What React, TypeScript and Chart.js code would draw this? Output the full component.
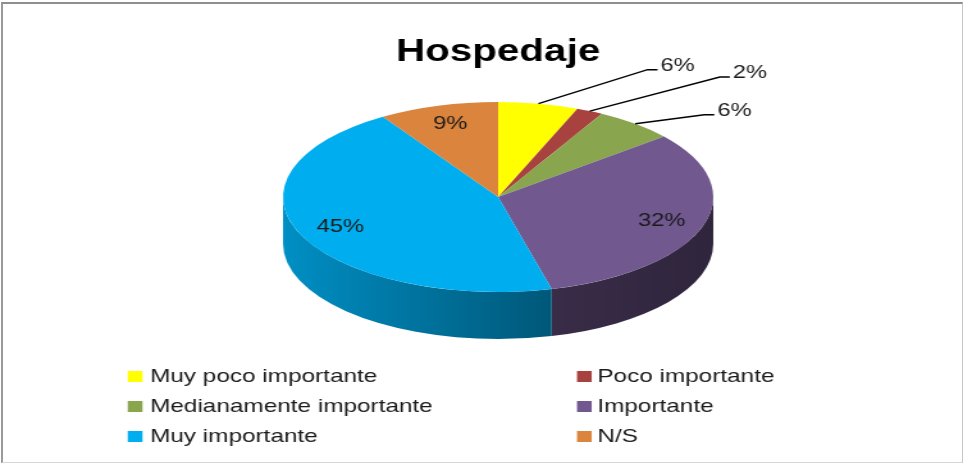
import React, { useEffect, useRef } from 'react';
import { Chart, registerables } from 'chart.js';

Chart.register(...registerables);

// ---------- data ----------
const TITLE = 'Hospedaje';
const categories = [
  'Muy poco importante',
  'Poco importante',
  'Medianamente importante',
  'Importante',
  'Muy importante',
  'N/S',
];
const values = [6, 2, 6, 32, 45, 9];
const colors = ['#FFFF00', '#A8423F', '#89A54E', '#71588F', '#00AEEF', '#DB843D'];

// ---------- layout / style ----------
const PAGE_W = 963;
const PAGE_H = 463;
const STRETCH = 1.28; // the reference image is stretched horizontally
const CANVAS_W = Math.round(PAGE_W / STRETCH);
const FONT = "'Liberation Sans', Arial, sans-serif";
const TEXT_COLOR = '#1a1a1a';

const PIE_RX = 215 / STRETCH; // outer radius in canvas units
const PIE_RY = 95; // vertical radius of the tilted pie
const TILT = PIE_RY / PIE_RX;
const DEPTH = 47;
const SIDE_SHADE: [number, number][] = [
  [0, 0.82],
  [0.633, 0.5],
  [1, 0.42],
];

// labels: outside labels get an offset (page px) from the rim anchor to the text start/baseline
const LABEL_OFFSET: ([number, number] | null)[] = [[122, -33], [143, -33], [82, -8], null, null, null];
const INSIDE_R = 0.8;
const LABEL_SIZE = 18.5;

// legend grid (page px)
const LEGEND_MARKER_X = [127.7, 576.7];
const LEGEND_TEXT_X = [150, 597];
const LEGEND_BASELINES = [382, 412, 442];
const LEGEND_SIZE = 19;

function shade(hex: string, f: number) {
  const n = parseInt(hex.slice(1), 16);
  const r = Math.round(((n >> 16) & 255) * f);
  const g = Math.round(((n >> 8) & 255) * f);
  const b = Math.round((n & 255) * f);
  return `rgb(${r},${g},${b})`;
}

const pie3d = {
  id: 'pie3d',
  beforeDatasetsDraw(chart: any) {
    const ctx = chart.ctx as CanvasRenderingContext2D;
    const arcs = chart.getDatasetMeta(0).data;
    if (!arcs.length) return;
    const { x: cx, y: cy, outerRadius: R } = arcs[0] as any;
    const ry = R * TILT;
    ctx.save();
    arcs.forEach((arc: any, i: number) => {
      const a = Math.max(arc.startAngle, 0);
      const b = Math.min(arc.endAngle, Math.PI);
      if (b <= a) return;
      const g = ctx.createLinearGradient(cx - R, 0, cx + R, 0);
      SIDE_SHADE.forEach(([p, f]) => g.addColorStop(p, shade(colors[i], f)));
      ctx.beginPath();
      ctx.ellipse(cx, cy, R, ry, 0, a, b, false);
      ctx.ellipse(cx, cy + DEPTH, R, ry, 0, b, a, true);
      ctx.closePath();
      ctx.fillStyle = g;
      ctx.fill();
    });
    ctx.restore();
    ctx.save();
    ctx.translate(cx, cy);
    ctx.scale(1, TILT);
    ctx.translate(-cx, -cy);
  },
  afterDatasetsDraw(chart: any) {
    const ctx = chart.ctx as CanvasRenderingContext2D;
    ctx.restore();
    const arcs = chart.getDatasetMeta(0).data;
    if (!arcs.length) return;
    const total = values.reduce((s, v) => s + v, 0);
    ctx.save();
    ctx.font = `${LABEL_SIZE}px ${FONT}`;
    ctx.fillStyle = TEXT_COLOR;
    ctx.strokeStyle = '#000';
    ctx.lineWidth = 1.4;
    arcs.forEach((arc: any, i: number) => {
      const { x: cx, y: cy, outerRadius: R, startAngle, endAngle } = arc;
      const ry = R * TILT;
      const m = (startAngle + endAngle) / 2;
      const txt = `${Math.round((values[i] / total) * 100)}%`;
      const off = LABEL_OFFSET[i];
      if (off) {
        const ax = cx + R * Math.cos(m);
        const ay = cy + ry * Math.sin(m);
        const tx = ax + off[0] / STRETCH;
        const ty = ay + off[1];
        ctx.beginPath();
        ctx.moveTo(ax, ay);
        ctx.lineTo(tx - 13 / STRETCH, ty - 1);
        ctx.lineTo(tx - 3 / STRETCH, ty - 1);
        ctx.stroke();
        ctx.textAlign = 'left';
        ctx.textBaseline = 'alphabetic';
        ctx.fillText(txt, tx, ty);
      } else {
        const lx = cx + INSIDE_R * R * Math.cos(m);
        const ly = cy + INSIDE_R * ry * Math.sin(m);
        ctx.textAlign = 'center';
        ctx.textBaseline = 'middle';
        ctx.fillText(txt, lx, ly);
      }
    });
    ctx.restore();
  },
  afterDraw(chart: any) {
    const ctx = chart.ctx as CanvasRenderingContext2D;
    ctx.save();
    ctx.font = `${LEGEND_SIZE}px ${FONT}`;
    ctx.textAlign = 'left';
    ctx.textBaseline = 'alphabetic';
    categories.forEach((c, i) => {
      const col = i % 2;
      const row = Math.floor(i / 2);
      const base = LEGEND_BASELINES[row];
      ctx.fillStyle = colors[i];
      ctx.fillRect(LEGEND_MARKER_X[col] / STRETCH, base - 11, 11.5, 11);
      ctx.fillStyle = TEXT_COLOR;
      ctx.fillText(c, LEGEND_TEXT_X[col] / STRETCH, base);
    });
    ctx.restore();
  },
};

export default function App() {
  const ref = useRef<HTMLCanvasElement>(null);
  useEffect(() => {
    if (!ref.current) return;
    const chart = new Chart(ref.current, {
      type: 'pie',
      data: {
        labels: categories,
        datasets: [
          {
            data: values,
            backgroundColor: colors,
            borderWidth: 0,
            radius: PIE_RX,
            hoverOffset: 0,
            clip: false as any,
          } as any,
        ],
      },
      options: {
        responsive: false,
        animation: false,
        devicePixelRatio: 1,
        layout: { padding: { left: 26, right: 0, top: 0, bottom: 139.8 } },
        plugins: {
          legend: { display: false },
          tooltip: { enabled: false },
          title: {
            display: true,
            text: TITLE,
            color: '#000',
            font: { family: FONT, size: 31.5, weight: 'bold', lineHeight: 1.2 },
            padding: { top: 33, bottom: 0 },
          },
        },
      } as any,
      plugins: [pie3d as any],
    });
    return () => chart.destroy();
  }, []);

  return (
    <div
      style={{
        position: 'fixed',
        left: 0,
        top: 0,
        width: PAGE_W,
        height: PAGE_H,
        background: '#fff',
        overflow: 'hidden',
      }}
    >
      <canvas
        ref={ref}
        width={CANVAS_W}
        height={PAGE_H}
        style={{ width: `${PAGE_W}px`, height: `${PAGE_H}px`, display: 'block' }}
      />
      <div
        style={{
          position: 'absolute',
          left: 1,
          top: 2,
          width: PAGE_W - 1,
          height: PAGE_H - 2,
          boxSizing: 'border-box',
          borderTop: '2px solid #8e8e8e',
          borderLeft: '2px solid #9a9a9a',
          borderRight: '1px solid #c6c6c6',
          borderBottom: '1px solid #d6d6d6',
          pointerEvents: 'none',
        }}
      />
    </div>
  );
}
